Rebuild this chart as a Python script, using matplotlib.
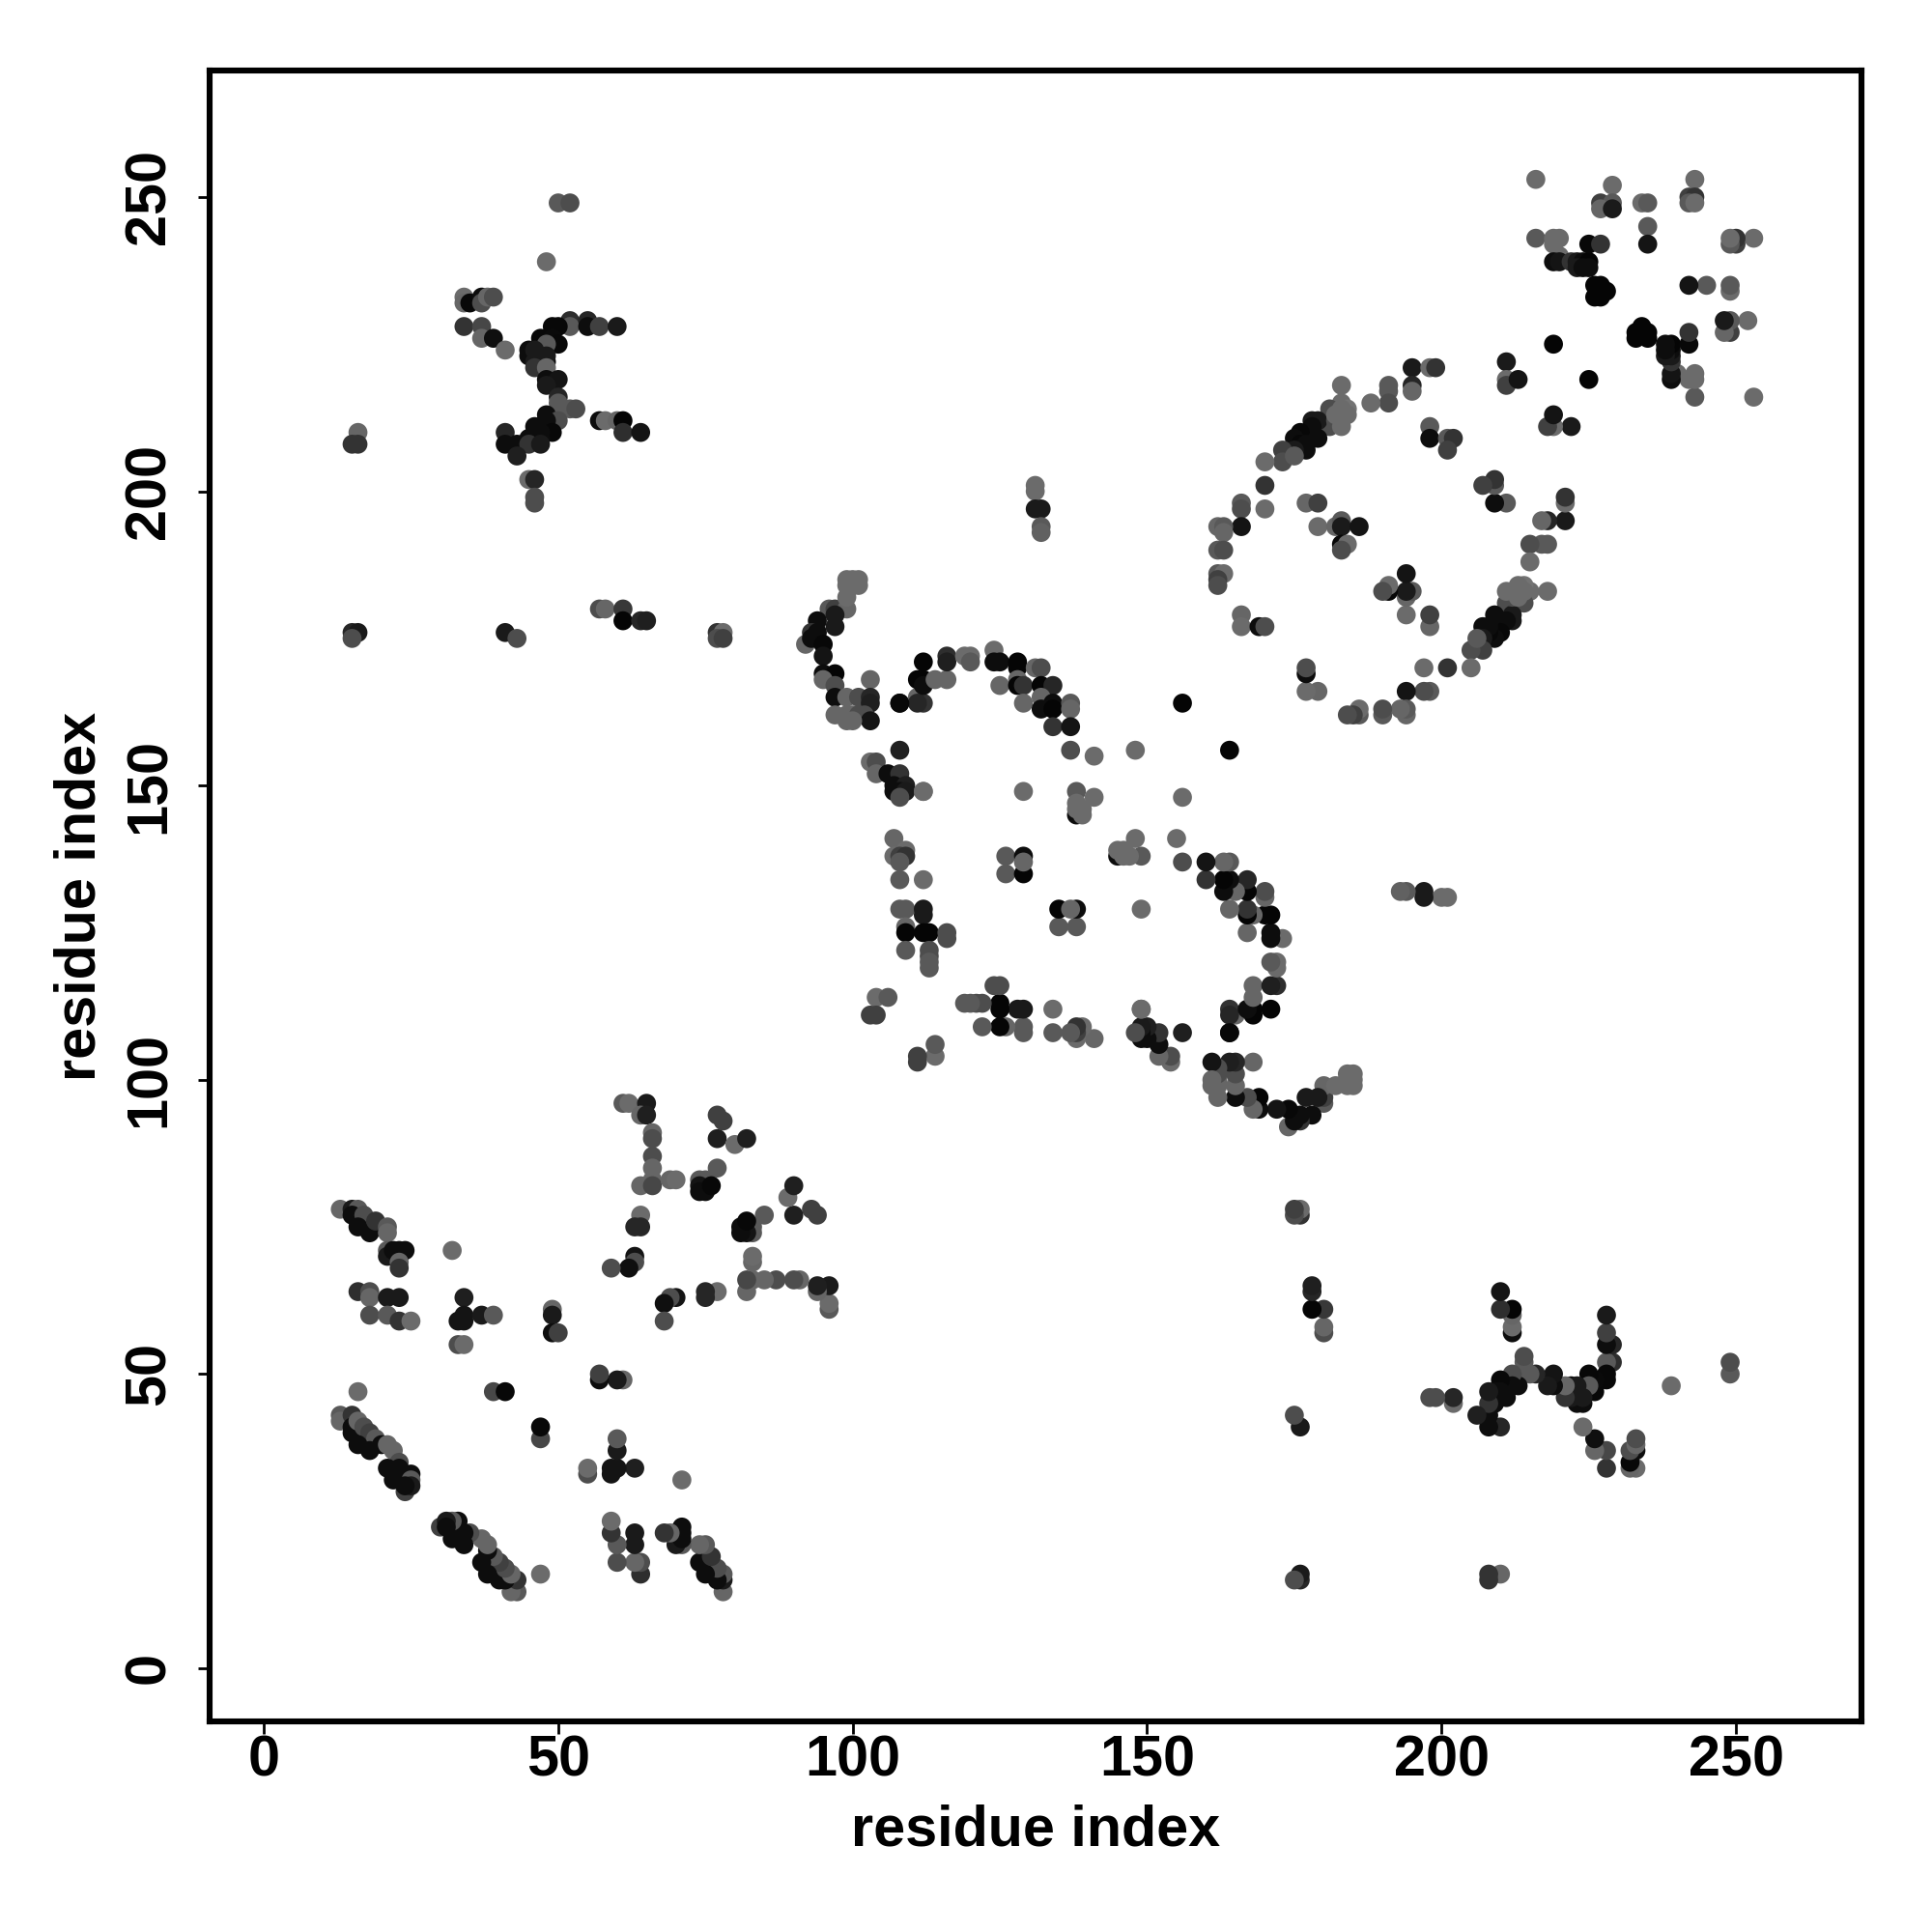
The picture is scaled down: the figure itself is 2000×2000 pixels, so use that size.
"""
Residue contact map, contacts are kept once as (i, j, grey) with i < j
"""

import matplotlib
matplotlib.use('Agg')
import matplotlib.pyplot as plt

tick_values = [0, 50, 100, 150, 200, 250]

# first strand pairing, low residue numbers
strand_a = [
    (13, 78, .40), (15, 78, .10), (16, 78, .35), (15, 77, .05), (17, 77, .30), (16, 75, .05),
    (18, 74, .05), (19, 76, .20), (21, 75, .35), (21, 74, .40), (21, 71, .35), (21, 70, .10),
    (22, 71, .05), (23, 70, .05), (24, 71, .05), (23, 71, .05), (23, 69, .40), (23, 68, .20),
    (32, 71, .42), (16, 64, .18), (18, 64, .30), (18, 63, .40), (21, 63, .10), (23, 63, .10),
    (18, 60, .30), (21, 60, .35), (23, 59, .20), (25, 59, .42), (34, 63, .12), (34, 60, .08),
    (33, 59, .08), (34, 59, .08), (37, 60, .10), (39, 60, .35), (33, 55, .30), (34, 55, .42),
    (49, 61, .40), (49, 60, .10), (49, 57, .05), (50, 57, .25), (16, 47, .42), (39, 47, .28),
    (41, 47, .03),
]

strand_b = [
    (13, 43, .35), (13, 42, .40), (15, 43, .20), (15, 41, .05), (15, 40, .05), (16, 42, .40),
    (17, 41, .30), (18, 40, .25), (19, 39, .35), (16, 38, .05), (18, 37, .05), (20, 38, .05),
    (21, 38, .40), (22, 37, .40), (23, 35, .30), (21, 34, .05), (22, 32, .05), (23, 34, .05),
    (25, 33, .05), (24, 30, .25), (25, 32, .35), (25, 31, .10), (24, 31, .05),
]

fan_low = [
    (61, 96, .35), (62, 96, .42), (65, 96, .10), (64, 94, .40), (65, 94, .12), (66, 91, .40),
    (66, 90, .30), (66, 87, .30), (66, 85, .40), (66, 83, .40), (64, 82, .40), (66, 82, .28),
    (69, 83, .40), (70, 83, .42), (77, 94, .25), (78, 93, .25), (77, 90, .12), (80, 89, .42),
    (82, 90, .12), (77, 85, .35), (74, 83, .35), (75, 83, .35), (74, 82, .08), (74, 81, .05),
    (75, 81, .05), (76, 82, .03), (64, 77, .42), (63, 75, .15), (64, 75, .15), (63, 70, .08),
    (63, 69, .30), (62, 68, .06), (59, 68, .30),
]

far_left = [
    (50, 249, .35), (52, 249, .30), (48, 239, .42), (34, 233, .42), (34, 232, .40), (35, 232, .03),
    (37, 233, .05), (37, 232, .30), (38, 233, .40), (39, 233, .30), (34, 228, .20), (37, 228, .28),
    (37, 226, .40), (39, 226, .06), (41, 224, .42), (52, 229, .18), (52, 228, .35), (49, 228, .03),
    (50, 228, .03), (55, 229, .15), (55, 228, .05), (57, 228, .25), (60, 228, .10), (47, 226, .03),
    (48, 226, .03), (49, 226, .04), (50, 225, .03), (48, 225, .35), (45, 224, .05), (45, 223, .05),
    (46, 224, .10), (46, 222, .10), (48, 222, .03), (48, 223, .10), (46, 221, .20), (48, 221, .40),
    (48, 219, .05), (50, 219, .08), (48, 218, .10), (50, 216, .15), (50, 215, .35), (52, 214, .35),
    (53, 214, .30), (48, 213, .05), (50, 212, .30), (48, 212, .05), (46, 211, .05), (49, 210, .03),
    (47, 210, .05), (47, 209, .05), (45, 209, .05), (41, 210, .15), (41, 208, .05), (43, 208, .05),
    (45, 208, .20), (47, 208, .10), (43, 206, .12), (57, 212, .05), (58, 212, .42), (60, 212, .40),
    (61, 212, .02), (61, 210, .18), (64, 210, .08), (45, 202, .42), (46, 202, .15), (46, 199, .30),
    (46, 198, .30), (16, 210, .40), (15, 208, .20), (16, 208, .20), (57, 180, .30), (58, 180, .40),
    (61, 180, .22), (61, 178, .02), (64, 178, .15), (65, 178, .12), (15, 176, .15), (16, 176, .10),
    (15, 175, .30), (41, 176, .10), (43, 175, .30), (77, 176, .20), (78, 176, .42), (77, 175, .30),
    (78, 175, .25),
]

middle_arc = [
    (96, 180, .35), (97, 180, .25), (99, 180, .40), (99, 182, .42), (99, 184, .42), (101, 184, .42),
    (99, 185, .42), (100, 185, .42), (101, 185, .42), (100, 184, .42),
    (94, 178, .05), (97, 179, .10), (93, 176, .20), (94, 176, .05), (97, 177, .10), (92, 174, .40),
    (93, 175, .05), (95, 174, .03), (95, 172, .08), (95, 169, .05), (97, 169, .02), (95, 168, .40),
    (103, 168, .40), (97, 167, .30), (97, 165, .05), (99, 165, .40), (101, 165, .30), (103, 165, .15),
    (103, 164, .12), (97, 162, .40), (99, 162, .40), (100, 162, .40), (101, 162, .30), (102, 162, .30),
    (103, 161, .08), (99, 161, .40), (100, 161, .40), (108, 164, .02), (111, 165, .40), (112, 164, .20),
    (111, 164, .15), (112, 171, .02), (111, 168, .02), (112, 168, .02), (112, 167, .05), (114, 168, .40),
    (116, 168, .40), (116, 172, .18), (116, 171, .12), (119, 172, .42), (120, 172, .42), (120, 171, .35),
    (124, 173, .42), (124, 171, .05), (125, 171, .05), (128, 171, .02), (128, 170, .02), (131, 170, .40),
    (132, 170, .30), (125, 167, .40), (128, 168, .40), (128, 167, .02), (129, 167, .20), (132, 167, .02),
    (134, 167, .15), (129, 164, .40), (132, 165, .40), (132, 163, .05), (134, 164, .05), (134, 163, .02),
    (137, 164, .35), (137, 163, .40), (134, 160, .20), (137, 160, .08), (137, 156, .30), (141, 155, .42),
    (148, 156, .42), (156, 164, .02),
]

middle_core = [
    (108, 156, .12), (103, 154, .42), (104, 154, .30), (104, 152, .40), (106, 152, .05), (108, 152, .20),
    (107, 150, .05), (109, 150, .12), (107, 149, .05), (108, 149, .05), (109, 149, .10), (108, 148, .30),
    (112, 149, .42), (129, 149, .42), (138, 149, .35), (138, 147, .42), (141, 148, .42), (138, 145, .05),
    (139, 146, .42), (139, 145, .42), (138, 146, .42), (107, 141, .40), (109, 139, .42), (107, 138, .42),
    (108, 138, .25), (109, 138, .20), (108, 134, .35), (112, 134, .42), (126, 138, .35), (129, 138, .05),
    (126, 135, .35), (129, 135, .02), (129, 137, .40), (108, 129, .35), (109, 129, .35), (112, 129, .10),
    (112, 128, .10), (109, 126, .40), (109, 125, .02), (112, 125, .02), (113, 125, .02), (116, 125, .30),
    (116, 124, .30), (109, 122, .35), (113, 122, .30), (113, 121, .30), (113, 120, .35), (113, 119, .35),
    (104, 114, .42), (106, 114, .35), (103, 111, .25), (104, 111, .25), (108, 137, .35), (108, 164, .03),
    (112, 149, .42),
]

ring = [
    (195, 221, .10), (198, 221, .42), (199, 221, .20), (195, 218, .15), (195, 217, .40), (191, 218, .35),
    (191, 217, .35), (191, 215, .30), (188, 215, .42), (183, 218, .42), (183, 215, .42), (181, 214, .30),
    (181, 211, .30), (178, 212, .10), (179, 212, .10), (178, 211, .05), (176, 210, .03), (179, 209, .05),
    (175, 209, .05), (176, 208, .03), (177, 208, .05), (177, 207, .05), (175, 207, .10), (173, 207, .25),
    (173, 205, .30), (175, 206, .35), (170, 205, .42), (170, 201, .20), (170, 197, .42), (166, 198, .35),
    (166, 197, .30), (166, 194, .08), (162, 194, .40), (163, 194, .35), (163, 193, .40), (162, 190, .35),
    (163, 190, .30), (162, 186, .35), (163, 186, .42), (162, 185, .25), (162, 184, .30), (184, 214, .45),
    (182, 212, .30), (183, 213, .42), (184, 213, .42), (182, 213, .42), (183, 214, .42),
    (183, 211, .42), (198, 211, .35), (198, 209, .05), (201, 209, .35), (202, 209, .20), (201, 207, .25),
    (177, 198, .40), (179, 198, .25), (179, 194, .42), (182, 194, .40), (183, 195, .35), (183, 194, .10),
    (186, 194, .08), (183, 191, .03), (184, 191, .42), (183, 190, .30), (166, 179, .40), (166, 177, .42),
    (169, 177, .05), (170, 177, .30),
]

far_right = [
    (216, 253, .42), (229, 252, .42), (227, 249, .25), (229, 249, .35), (227, 248, .40), (229, 248, .10),
    (234, 249, .42), (235, 249, .35), (243, 253, .42), (242, 250, .25), (243, 250, .20), (242, 249, .35),
    (243, 249, .42), (235, 245, .35), (235, 242, .08), (216, 243, .35), (219, 243, .42), (220, 243, .42),
    (219, 242, .42), (220, 240, .42), (219, 239, .05), (220, 239, .08), (222, 239, .20), (223, 239, .10),
    (224, 239, .05), (225, 239, .02), (223, 238, .10), (224, 238, .05), (225, 238, .05), (225, 242, .03),
    (227, 242, .20), (226, 235, .02), (227, 235, .02), (226, 233, .02), (227, 233, .02), (228, 234, .02),
    (219, 225, .02), (211, 222, .10), (211, 219, .42), (211, 218, .25), (213, 219, .08),
]

crossing = [
    (131, 201, .42), (131, 200, .42), (131, 197, .10), (132, 197, .10), (132, 194, .35), (132, 193, .38),
]

# contacts are symmetric, so every block is drawn for (i, j) and (j, i)
blocks = [strand_a, strand_b, fan_low, far_left, middle_arc, middle_core, ring, far_right, crossing]

plt.rcParams['font.family'] = ['Liberation Sans', 'DejaVu Sans']
plt.rcParams['font.weight'] = 'bold'

fig = plt.figure(figsize=(10, 10), dpi=200)
ax = fig.add_axes([217 / 2000, 218 / 2000, 1710 / 2000, 1709 / 2000])

for block in blocks:
    res_i = [c[0] for c in block]
    res_j = [c[1] for c in block]
    greys = [str(c[2]) for c in block]
    ax.scatter(res_i, res_j, s=50, c=greys, linewidths=0, zorder=2)
    ax.scatter(res_j, res_i, s=50, c=greys, linewidths=0, zorder=2)

ax.set_xlim(-9.19, 271.3)
ax.set_ylim(-9.03, 271.5)
ax.set_xticks(tick_values)
ax.set_yticks(tick_values)
ax.tick_params(axis='x', length=4.5, width=1.0, labelsize=21.4, pad=0.5)
ax.tick_params(axis='y', length=4.5, width=1.0, labelsize=21.4, pad=8)
plt.setp(ax.get_yticklabels(), rotation=90, va='center')
for spine in ax.spines.values():
    spine.set_linewidth(2.2)

ax.set_xlabel('residue index', fontsize=21.4, fontweight='bold', labelpad=6)
ax.set_ylabel('residue index', fontsize=21.4, fontweight='bold', labelpad=6.2)

fig.savefig('out.png', dpi=200)
